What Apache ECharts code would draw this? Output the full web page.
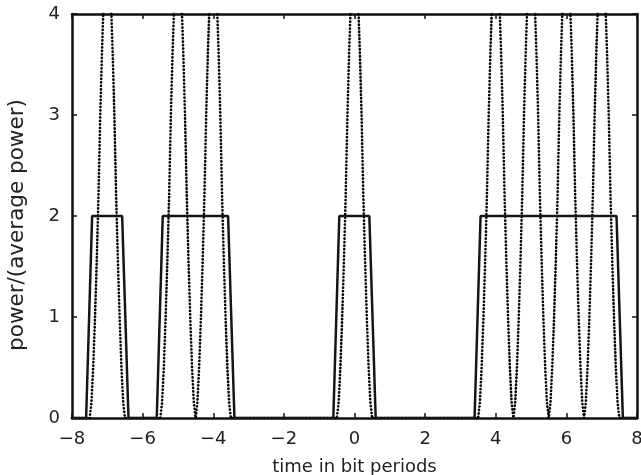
<!DOCTYPE html>
<html>
<head>
<meta charset="utf-8">
<script src="https://cdn.jsdelivr.net/npm/echarts@6/dist/echarts.min.js"></script>
<style>
html,body{margin:0;padding:0;background:#fff;}
#chart{width:641px;height:475px;}
</style>
</head>
<body>
<div id="chart"></div>
<script>
// ---- data ----
const bitsOne = [-7, -5, -4, 0, 4, 5, 6, 7];          // bit slots carrying a "1"
const nrzLevel = 2;                                   // NRZ power level
const nrzEdgeOffsets = [-0.6, -0.43, 0.42, 0.6];      // rise start, rise end, fall start, fall end (bit periods)
const nrzEdgeLevels  = [0, 2, 2, 0];
const rzOffsets = [-0.5, -0.45, -0.4, -0.35, -0.3, -0.25, -0.2, -0.15, -0.1, -0.05, 0,
                   0.05, 0.1, 0.15, 0.2, 0.25, 0.3, 0.35, 0.4, 0.45, 0.5];
const rzValues  = [0, 0.15, 0.5, 0.98, 1.55, 2.2, 3.0, 3.64, 4.16, 4.49, 4.6,
                   4.49, 4.16, 3.64, 3.0, 2.2, 1.55, 0.98, 0.5, 0.15, 0];
const xRange = [-8, 8];
const yRange = [0, 4];
const xTickStep = 2;
const yTickStep = 1;
const xTitle = 'time in bit periods';
const yTitle = 'power/(average power)';

// ---- build series ----
function runs(bits) {
  const out = [];
  let s = bits[0], e = bits[0];
  for (let i = 1; i < bits.length; i++) {
    if (bits[i] === e + 1) { e = bits[i]; }
    else { out.push([s, e]); s = e = bits[i]; }
  }
  out.push([s, e]);
  return out;
}
const nrzData = [[xRange[0], 0]];
runs(bitsOne).forEach(([a, b]) => {
  nrzData.push([a + nrzEdgeOffsets[0], nrzEdgeLevels[0]]);
  nrzData.push([a + nrzEdgeOffsets[1], nrzEdgeLevels[1] * nrzLevel / 2]);
  nrzData.push([b + nrzEdgeOffsets[2], nrzEdgeLevels[2] * nrzLevel / 2]);
  nrzData.push([b + nrzEdgeOffsets[3], nrzEdgeLevels[3]]);
});
nrzData.push([xRange[1], 0]);

const rzData = [[xRange[0], 0]];
bitsOne.forEach(c => {
  rzOffsets.forEach((o, i) => rzData.push([c + o, rzValues[i]]));
});
rzData.push([xRange[1], 0]);

const FONT = 'DejaVu Sans';
const minus = v => String(v).replace('-', '\u2212');
const frame = { show: true, onZero: false, lineStyle: { color: '#111', width: 2.5 } };
const tick = { show: true, inside: true, length: 5, lineStyle: { color: '#111', width: 1.5 } };

const chart = echarts.init(document.getElementById('chart'), null, { renderer: 'canvas' });
chart.setOption({
  animation: false,
  backgroundColor: '#fff',
  grid: { left: 72, right: 4, top: 14, bottom: 57, containLabel: false, outerBoundsMode: 'none' },
  xAxis: [{
    type: 'value', min: xRange[0], max: xRange[1], interval: xTickStep,
    axisLine: frame, axisTick: tick, splitLine: { show: false },
    axisLabel: { margin: 12, fontFamily: FONT, fontSize: 18, color: '#222', formatter: minus },
    name: xTitle, nameLocation: 'middle', nameGap: 40,
    nameTextStyle: { fontFamily: FONT, fontSize: 18, color: '#222' }
  }, {
    type: 'value', position: 'top', min: xRange[0], max: xRange[1], interval: xTickStep,
    axisLine: frame, axisTick: tick, axisLabel: { show: false }, splitLine: { show: false }
  }],
  yAxis: [{
    type: 'value', min: yRange[0], max: yRange[1], interval: yTickStep,
    axisLine: frame, axisTick: tick, splitLine: { show: false },
    axisLabel: { margin: 12, fontFamily: FONT, fontSize: 18, color: '#222' },
    name: yTitle, nameLocation: 'middle', nameGap: 44,
    nameTextStyle: { fontFamily: FONT, fontSize: 21.5, color: '#222', padding: [0, 18, 0, 0] }
  }, {
    type: 'value', position: 'right', min: yRange[0], max: yRange[1], interval: yTickStep,
    axisLine: frame, axisTick: tick, axisLabel: { show: false }, splitLine: { show: false }
  }],
  series: [{
    type: 'line', name: 'NRZ', data: nrzData, showSymbol: false, symbol: 'none',
    clip: true, lineStyle: { color: '#151515', width: 2.5 }, z: 3
  }, {
    type: 'line', name: 'RZ', data: rzData, showSymbol: false, symbol: 'none',
    clip: true, lineStyle: { color: '#000', width: 2.6, type: [0.2, 3.3], cap: 'round' }, z: 2
  }]
});
</script>
</body>
</html>
